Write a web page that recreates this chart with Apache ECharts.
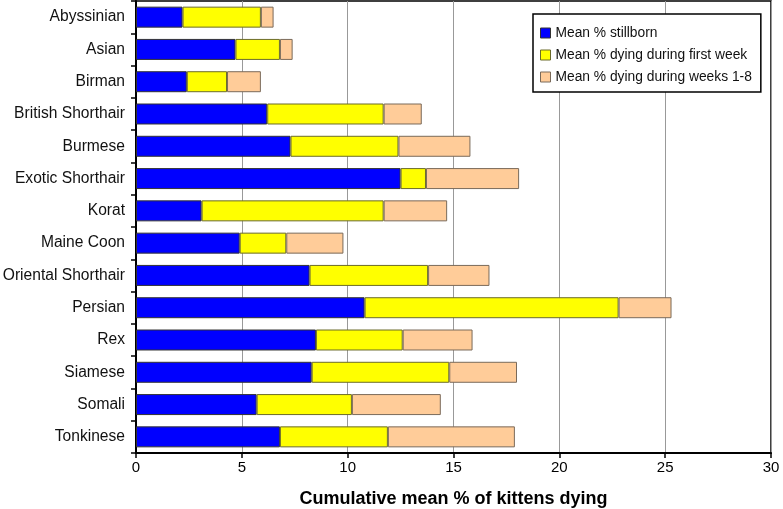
<!DOCTYPE html>
<html>
<head>
<meta charset="utf-8">
<script src="https://cdn.jsdelivr.net/npm/echarts@6/dist/echarts.min.js"></script>
<style>
html,body{margin:0;padding:0;background:#fff;}
#chart{width:783px;height:509px;}
</style>
</head>
<body>
<div id="chart"></div>
<script>
const categories = ["Abyssinian","Asian","Birman","British Shorthair","Burmese","Exotic Shorthair","Korat","Maine Coon","Oriental Shorthair","Persian","Rex","Siamese","Somali","Tonkinese"];
// cumulative end points
const stillbornEnd = [2.2,4.7,2.4,6.2,7.3,12.5,3.1,4.9,8.2,10.8,8.5,8.3,5.7,6.8];
const firstWeekEnd = [5.9,6.8,4.3,11.7,12.4,13.7,11.7,7.1,13.8,22.8,12.6,14.8,10.2,11.9];
const weeks18End   = [6.5,7.4,5.9,13.5,15.8,18.1,14.7,9.8,16.7,25.3,15.9,18.0,14.4,17.9];
const xTicks = [0,5,10,15,20,25,30];
const seriesNames = ["Mean % stillborn","Mean % dying during first week","Mean % dying during weeks 1-8"];

const r1 = v => Math.round(v*10)/10;
const stillborn = stillbornEnd.slice();
const firstWeek = firstWeekEnd.map((v,i)=>r1(v - stillbornEnd[i]));
const weeks18 = weeks18End.map((v,i)=>r1(v - firstWeekEnd[i]));

const chart = echarts.init(document.getElementById('chart'), null, {renderer:'canvas'});
const font = '"Liberation Sans", Arial, sans-serif';
const narrow = '"Liberation Sans Narrow", "Arial Narrow", "Liberation Sans", sans-serif';
const colors = ['#0000ff','#ffff00','#ffcc99'];
const borders = ['#333333','#6b6b2a','#7a6a5a'];
function mk(name, data, idx){
  return {
    name: name, type:'bar', stack:'total', data: data,
    barWidth: '65%',
    itemStyle:{color: colors[idx], borderColor: borders[idx], borderWidth: 1},
    emphasis:{disabled:true},
    animation:false
  };
}
chart.setOption({
  animation:false,
  textStyle:{fontFamily: font},
  grid:{left:136, right:12, top:1, bottom:56, containLabel:false, outerBoundsMode:'none',
    show:true, borderColor:'#000', borderWidth:1.5, backgroundColor:'#fff'},
  legend:{
    orient:'vertical', left:533, top:14,
    backgroundColor:'#fff', borderColor:'#000', borderWidth:1.5,
    padding:[12,9,8,7], itemGap:8, itemWidth:10, itemHeight:10,
    icon:'rect',
    textStyle:{fontSize:13.8, color:'#111', fontFamily: font},
    data: seriesNames.map((n,i)=>({name:n, itemStyle:{borderColor: borders[i], borderWidth:1}}))
  },
  xAxis:{
    type:'value', min:0, max:30, interval:5,
    name:'Cumulative mean % of kittens dying', nameLocation:'middle', nameGap:37,
    nameTextStyle:{fontSize:18, fontWeight:'bold', color:'#000', fontFamily: narrow},
    axisLine:{show:true, lineStyle:{color:'#000', width:2}},
    axisTick:{show:true, length:5, lineStyle:{color:'#000', width:1.5}},
    axisLabel:{fontSize:15, color:'#000', margin:7, fontFamily: narrow,
      formatter: v => xTicks.includes(v) ? String(v) : ''},
    splitLine:{show:true, lineStyle:{color:'#999', width:1}}
  },
  yAxis:{
    type:'category', data: categories, inverse:true,
    axisLine:{show:true, lineStyle:{color:'#000', width:2}},
    axisTick:{show:true, length:5, lineStyle:{color:'#000', width:1.5}},
    axisLabel:{fontSize:15.6, color:'#111', margin:11, fontFamily: font},
    splitLine:{show:false}
  },
  series:[mk(seriesNames[0], stillborn, 0), mk(seriesNames[1], firstWeek, 1), mk(seriesNames[2], weeks18, 2)]
});
</script>
</body>
</html>
